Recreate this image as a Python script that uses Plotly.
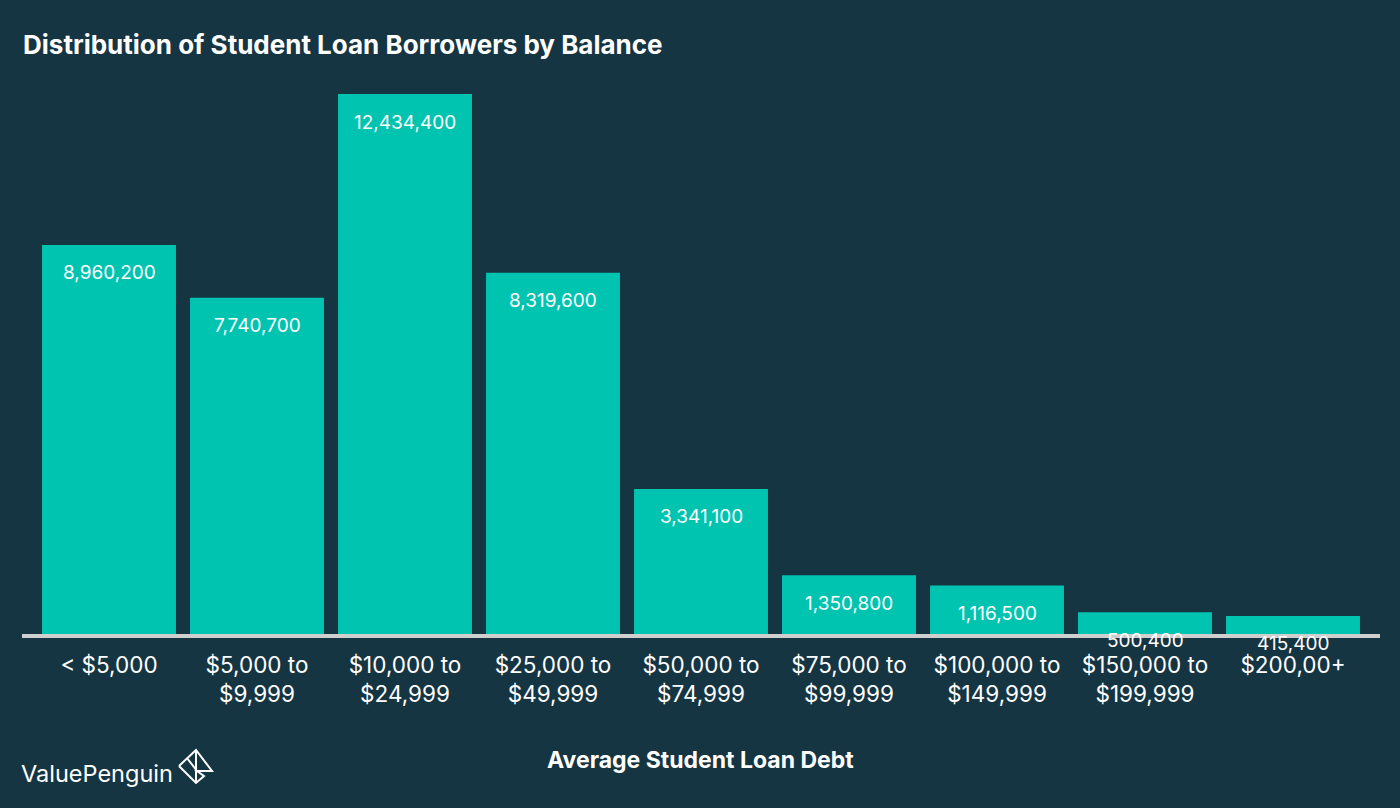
import plotly.graph_objects as go

# data
balance_bands = ['< $5,000', '$5,000 to<br>$9,999', '$10,000 to<br>$24,999',
                 '$25,000 to<br>$49,999', '$50,000 to<br>$74,999', '$75,000 to<br>$99,999',
                 '$100,000 to<br>$149,999', '$150,000 to<br>$199,999', '$200,00+']
borrowers = [8960200, 7740700, 12434400, 8319600, 3341100, 1350800, 1116500, 500400, 415400]

BG = '#163543'
BAR = '#00c4b0'
FONT = 'Inter'

W, H = 1400, 808
L, R, T, B = 35, 33, 94, 174
PW, PH = W - L - R, H - T - B


def px(x):
    return (x - L) / PW


def py(y):
    return (H - B - y) / PH


fig = go.Figure(go.Bar(
    x=balance_bands, y=borrowers, marker_color=BAR, marker_line_width=0,
    hoverinfo='x+y'))

# value labels just below the top of each bar
for cat, val in zip(balance_bands, borrowers):
    fig.add_annotation(x=cat, y=val, yshift=-28, text=f'{val:,}', showarrow=False,
                       font=dict(family=FONT, size=19, color='white'))

# title, axis title, brand
fig.add_annotation(x=px(21), y=py(45), xref='paper', yref='paper', xanchor='left',
                   yanchor='middle',
                   text='<b>Distribution of Student Loan Borrowers by Balance</b>',
                   showarrow=False, font=dict(family=FONT, size=26, color='white'))
fig.add_annotation(x=px(700), y=py(760), xref='paper', yref='paper', yanchor='middle',
                   text='<b>Average Student Loan Debt</b>', showarrow=False,
                   font=dict(family=FONT, size=23, color='white'))
fig.add_annotation(x=px(19), y=py(773), xref='paper', yref='paper', xanchor='left',
                   yanchor='middle', text='ValuePenguin', showarrow=False,
                   font=dict(family=FONT, size=23.5, color='white'))


def logo_path(pts):
    return 'M ' + ' L '.join(f'{px(a):.5f},{py(b):.5f}' for a, b in pts)


logo = dict(type='path', xref='paper', yref='paper', line=dict(color='white', width=2))
fig.add_shape(path=logo_path([(179, 766), (196, 750), (212, 771), (197, 771),
                              (204, 776), (196, 783), (179, 766)]), **logo)
fig.add_shape(path=logo_path([(196, 750), (196, 783)]), **logo)
fig.add_shape(path=logo_path([(187, 758), (197, 771)]), **logo)

# baseline, sitting just under the bars (kept behind the labels)
fig.add_shape(type='line', xref='paper', yref='paper', x0=px(22), x1=px(1380),
              y0=py(636), y1=py(636), layer='below',
              line=dict(color='#cfcfcf', width=4))

fig.update_layout(
    width=W, height=H, margin=dict(l=L, r=R, t=T, b=B),
    paper_bgcolor=BG, plot_bgcolor=BG, bargap=0.095, showlegend=False,
    font=dict(family=FONT, color='white'),
    xaxis=dict(tickfont=dict(family=FONT, size=22.5, color='white'), showline=False,
               showgrid=False, zeroline=False, ticks='', ticklabelstandoff=15,
               fixedrange=True),
    yaxis=dict(range=[0, 12434400], visible=False, fixedrange=True),
)

fig.write_html('out.html', config={'displayModeBar': False},
               post_script="document.body.style.margin='0';")
